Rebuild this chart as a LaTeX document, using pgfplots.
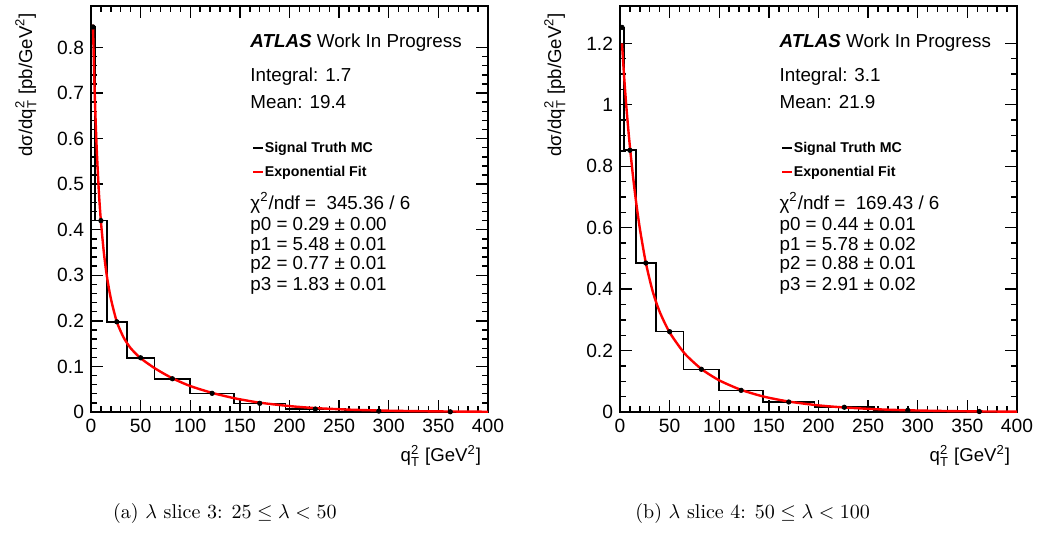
\documentclass[border=0pt]{standalone}
\usepackage{amsmath}
\usepackage{fontspec}
\usepackage{pgfplots}
\pgfplotsset{compat=1.18}
\newfontfamily\rootfont{Liberation Sans}

\pgfplotstableread{
x y
0 0.845
4 0.42
16 0.198
36 0.119
64 0.073
100 0.041
144 0.019
196 0.0065
256 0.002
324 0.0005
400 0.0005
}\histA
\pgfplotstableread{
x y
2 0.845
10 0.42
26 0.198
50 0.119
82 0.073
122 0.041
170 0.019
226 0.0065
290 0.002
362 0.0005
}\ptsA
\pgfplotstableread{
x y
2 0.850
3 0.758
4 0.682
5 0.619
6 0.566
8 0.480
10 0.418
13 0.349
16 0.298
20 0.249
26 0.198
33 0.163
40 0.140
50 0.118
65 0.095
82 0.074
100 0.057
122 0.042
145 0.030
170 0.0205
200 0.013
226 0.0086
260 0.0052
290 0.0033
330 0.0018
362 0.0011
400 0.0006
}\fitA

\pgfplotstableread{
x y
0 1.252
4 0.852
16 0.485
36 0.2615
64 0.139
100 0.0705
144 0.0326
196 0.0155
256 0.0055
324 0.0015
400 0.0015
}\histB
\pgfplotstableread{
x y
2 1.252
10 0.852
26 0.485
50 0.2615
82 0.139
122 0.0705
170 0.0326
226 0.0155
290 0.0055
362 0.0015
}\ptsB
\pgfplotstableread{
x y
2 1.200
4 1.099
6 1.010
8 0.933
10 0.863
13 0.770
16 0.689
20 0.597
26 0.486
33 0.392
40 0.326
50 0.259
65 0.191
82 0.140
100 0.103
122 0.072
145 0.050
170 0.034
200 0.0216
226 0.0147
260 0.0088
290 0.0056
330 0.0031
362 0.0019
400 0.0011
}\fitB

\pgfplotsset{rootstyle/.style={
  width=198.5pt, height=203pt, scale only axis,
  xmin=0, xmax=400, ymin=0,
  xtick={0,50,...,400}, minor x tick num=4,
  tick align=inside, xtick pos=both, ytick pos=both,
  xticklabel pos=bottom, yticklabel pos=left,
  major tick length=6pt, minor tick length=3pt,
  axis line style={line width=0.75pt},
  every tick/.style={black, line width=0.7pt},
  ticklabel style={font=\rootfont\fontsize{9.6}{10}\selectfont},
  /pgf/number format/assume math mode=true,
  label style={font=\rootfont\fontsize{9.3}{11}\selectfont},
  xlabel style={at={(axis description cs:1,-0.123)}, anchor=base east},
  ylabel style={at={(axis description cs:-0.1486,1)}, anchor=base east},
  xlabel={q$^{\text{2}}_{\text{T}}$ [GeV$^{\text{2}}$]},
  ylabel={d\char"03C3/dq$^{\text{2}}_{\text{T}}$ [pb/GeV$^{\text{2}}$]},
  legend style={draw=none, fill=none, inner sep=0pt, row sep=3pt,
    font=\rootfont\bfseries\fontsize{7.1}{8}\selectfont,
    nodes={inner sep=0.5pt, text height=6pt, text depth=2pt}},
  legend cell align=left,
  legend image code/.code={\draw[#1, line width=1pt] (0pt,0pt) -- (4.8pt,0pt);},
}}
\newcommand{\stat}[3]{\node[anchor=base west, inner sep=0pt, font=\rootfont\fontsize{9.4}{11}\selectfont] at (axis description cs:#1,#2) {#3};}

\begin{document}
\begin{tikzpicture}[x=1pt,y=1pt]
\useasboundingbox (-45.5,-60) rectangle (473.5,206);
\begin{axis}[rootstyle, at={(0pt,0pt)}, anchor=south west,
  ymax=0.891, ytick={0,0.1,0.2,0.3,0.4,0.5,0.6,0.7,0.8}, minor y tick num=4,
  legend style={at={(axis description cs:0.405,0.673)}, anchor=north west}]
\addplot[const plot, black, line width=0.8pt] table {\histA};
\addlegendentry{Signal Truth MC}
\addplot[red, line width=1.2pt, smooth, tension=0.4] table {\fitA};
\addlegendentry{Exponential Fit}
\addplot[only marks, mark=*, mark size=1.1pt, black, forget plot] table {\ptsA};
\stat{0.4005}{0.8983}{{\bfseries\itshape ATLAS} Work In Progress}
\stat{0.4005}{0.8135}{Integral: 1.7}
\stat{0.4005}{0.748}{Mean: 19.4}
\stat{0.4005}{0.5}{\char"03C7$^{\text{2}}$/ndf =\ \ 345.36 / 6}
\stat{0.4005}{0.448}{p0 = 0.29 ± 0.00}
\stat{0.4005}{0.399}{p1 = 5.48 ± 0.01}
\stat{0.4005}{0.350}{p2 = 0.77 ± 0.01}
\stat{0.4005}{0.300}{p3 = 1.83 ± 0.01}
\end{axis}
\begin{axis}[rootstyle, at={(264.5pt,0pt)}, anchor=south west,
  ymax=1.3216, ytick={0,0.2,0.4,0.6,0.8,1,1.2}, minor y tick num=3,
  legend style={at={(axis description cs:0.405,0.673)}, anchor=north west}]
\addplot[const plot, black, line width=0.8pt] table {\histB};
\addlegendentry{Signal Truth MC}
\addplot[red, line width=1.2pt, smooth, tension=0.4] table {\fitB};
\addlegendentry{Exponential Fit}
\addplot[only marks, mark=*, mark size=1.1pt, black, forget plot] table {\ptsB};
\stat{0.401}{0.8983}{{\bfseries\itshape ATLAS} Work In Progress}
\stat{0.401}{0.8135}{Integral: 3.1}
\stat{0.401}{0.748}{Mean: 21.9}
\stat{0.401}{0.5}{\char"03C7$^{\text{2}}$/ndf =\ \ 169.43 / 6}
\stat{0.401}{0.448}{p0 = 0.44 ± 0.01}
\stat{0.401}{0.399}{p1 = 5.78 ± 0.02}
\stat{0.401}{0.350}{p2 = 0.88 ± 0.01}
\stat{0.401}{0.300}{p3 = 2.91 ± 0.02}
\end{axis}
\node[anchor=base west, inner sep=0pt, font=\fontsize{10}{12}\selectfont] at (10.85,-53) {(a) $\lambda$ slice 3: $25 \leq \lambda < 50$};
\node[anchor=base west, inner sep=0pt, font=\fontsize{10}{12}\selectfont] at (272,-53) {(b) $\lambda$ slice 4: $50 \leq \lambda < 100$};
\end{tikzpicture}
\end{document}
